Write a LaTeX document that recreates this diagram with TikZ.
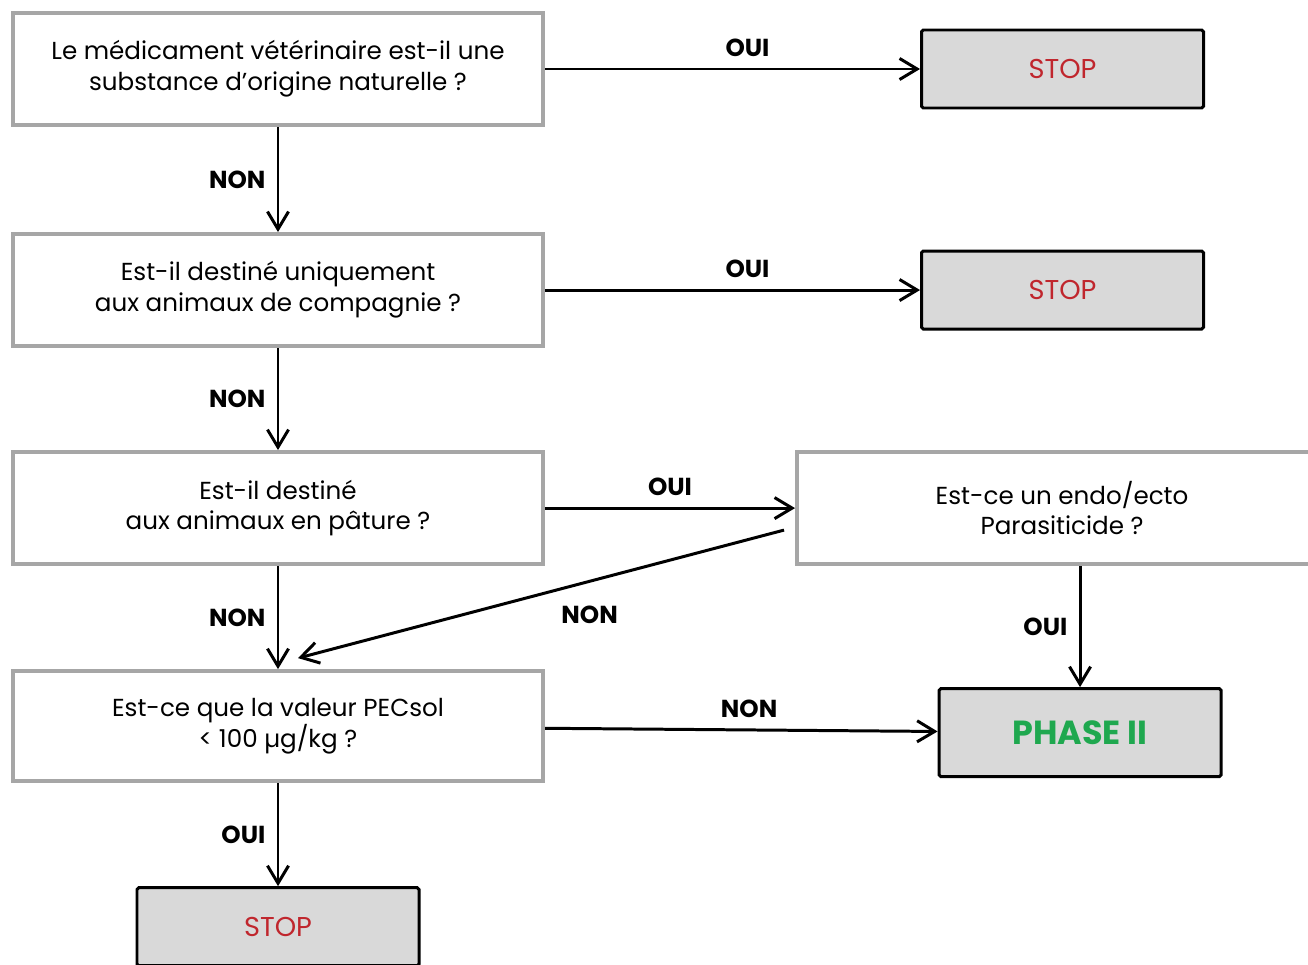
\documentclass[tikz,border=0pt]{standalone}
\usepackage{fontspec}
\setmainfont{Poppins}
\usetikzlibrary{arrows.meta,positioning}

\definecolor{boxgray}{HTML}{A6A6A6}
\definecolor{stopfill}{HTML}{D9D9D9}
\definecolor{stopred}{HTML}{C0262D}
\definecolor{phasegreen}{HTML}{1FA84F}

\begin{document}
\begin{tikzpicture}[->,>={Straight Barb[length=10pt,width=12pt]},line width=1.7pt,
	question/.style={draw=boxgray,line width=2.3pt,fill=white,minimum width=10.6cm,
		minimum height=2.24cm,align=center,font=\fontsize{14}{17.5}\selectfont},
	endbox/.style={draw=black,line width=1.7pt,fill=stopfill,rounded corners=1pt,
		minimum width=5.64cm,minimum height=1.56cm},
	answer/.style={font=\bfseries\fontsize{14}{16}\selectfont}]
\path[use as bounding box,clip] (0,0) rectangle (26.16,-19.28);
\node[question] (q1) at (5.56,-1.38) {Le médicament vétérinaire est-il une\\substance d’origine naturelle ?};
\node[endbox] (stop1) [right=7.50cm of q1] {\fontsize{15.5}{18}\selectfont\color{stopred}STOP};
\node[question] (q2) [below=2.10cm of q1] {Est-il destiné uniquement\\aux animaux de compagnie ?};
\node[endbox] (stop2) [right=7.50cm of q2] {\fontsize{15.5}{18}\selectfont\color{stopred}STOP};
\node[question] (q3) [below=2.04cm of q2] {Est-il destiné\\aux animaux en pâture ?};
\node[question] (q4) [right=5.0cm of q3] {Est-ce un endo/ecto\\Parasiticide ?};
\node[question,minimum height=2.2cm] (q5) [below=2.06cm of q3] {Est-ce que la valeur PECsol\\< 100 µg/kg ?};
\node[endbox,minimum height=1.76cm] (phase) [below=2.42cm of q4,xshift=0.36cm]
	{\bfseries\fontsize{19}{22}\selectfont\color{phasegreen}PHASE II};
\node[endbox] (stop3) [below=2.06cm of q5] {\fontsize{15.5}{18}\selectfont\color{stopred}STOP};
\coordinate[below left=0.44cm and 0.22cm of q4.west] (nondep);
\coordinate[above right=0.22cm and 0.4cm of q5.north] (nonarr);
\path
	(q1) edge node[answer,above=3pt,pos=0.54] {OUI} (stop1)
		edge node[answer,left=3pt] {NON} (q2)
	(q2) edge node[answer,above=3pt,pos=0.54] {OUI} (stop2)
		edge node[answer,left=3pt] {NON} (q3)
	(q3) edge node[answer,above=3pt] {OUI} (q4)
		edge node[answer,left=3pt] {NON} (q5)
	(q4.south -| phase.north) edge node[answer,left=3pt] {OUI} (phase)
	(nondep) edge node[answer,below=10pt,pos=0.4] {NON} (nonarr)
	(q5) edge node[answer,above=3pt,pos=0.52] {NON} (phase)
		edge node[answer,left=3pt] {OUI} (stop3);
\end{tikzpicture}
\end{document}
